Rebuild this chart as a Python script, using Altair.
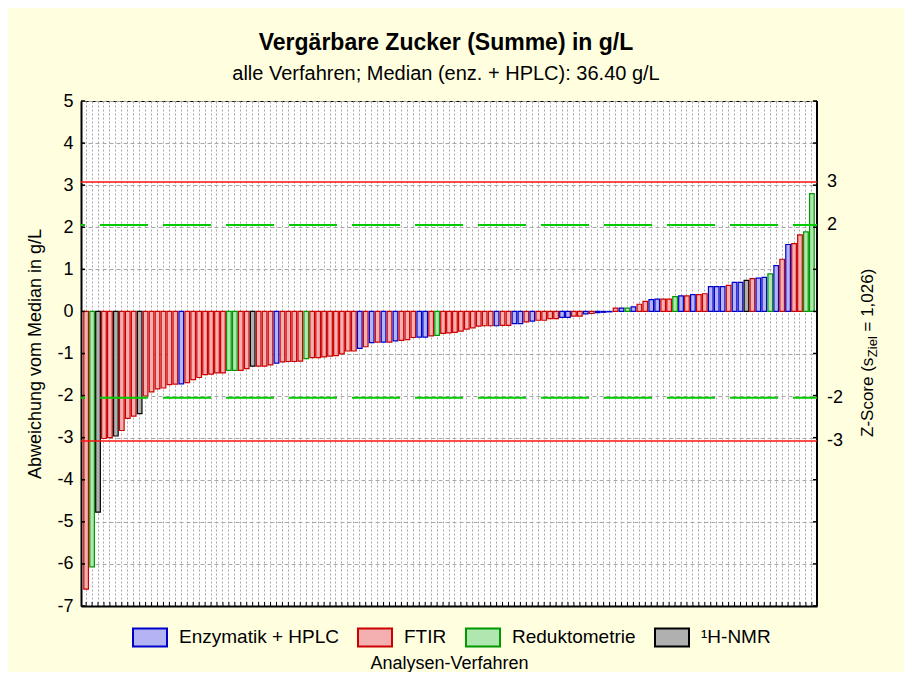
import altair as alt
import pandas as pd

# ---- data ----
values = [
    -6.60, -6.07, -4.77, -3.02, -3.00, -2.96, -2.83, -2.54, -2.49, -2.43,
    -2.01, -1.91, -1.84, -1.82, -1.74, -1.73, -1.72, -1.69, -1.62, -1.57,
    -1.50, -1.49, -1.46, -1.46, -1.40, -1.40, -1.40, -1.36, -1.30, -1.30,
    -1.30, -1.27, -1.23, -1.20, -1.19, -1.19, -1.18, -1.12, -1.10, -1.10,
    -1.08, -1.06, -1.05, -1.01, -0.94, -0.94, -0.88, -0.84, -0.74, -0.73,
    -0.73, -0.73, -0.70, -0.69, -0.67, -0.62, -0.61, -0.61, -0.58, -0.57,
    -0.52, -0.51, -0.50, -0.47, -0.42, -0.39, -0.35, -0.34, -0.34, -0.34,
    -0.33, -0.33, -0.29, -0.29, -0.25, -0.23, -0.21, -0.21, -0.17, -0.17,
    -0.14, -0.14, -0.11, -0.11, -0.06, -0.05, -0.03, -0.02, -0.01, 0.08,
    0.08, 0.08, 0.11, 0.17, 0.24, 0.28, 0.29, 0.29, 0.29, 0.35,
    0.37, 0.37, 0.40, 0.40, 0.42, 0.59, 0.59, 0.59, 0.62, 0.69,
    0.69, 0.74, 0.78, 0.79, 0.81, 0.89, 1.09, 1.24, 1.59, 1.61,
    1.82, 1.89, 2.80,
]
method_codes = [
    "F", "R", "N", "F", "F", "N", "F", "F", "F", "N",
    "F", "F", "F", "F", "F", "F", "E", "F", "F", "F",
    "F", "F", "F", "F", "R", "R", "F", "F", "N", "F",
    "F", "F", "E", "F", "F", "F", "F", "R", "F", "F",
    "F", "F", "F", "F", "F", "F", "E", "F", "E", "F",
    "E", "F", "E", "F", "F", "F", "E", "E", "F", "R",
    "F", "F", "F", "F", "F", "F", "F", "F", "F", "E",
    "F", "F", "E", "E", "F", "E", "F", "F", "F", "F",
    "E", "E", "F", "F", "E", "F", "E", "E", "E", "F",
    "E", "R", "E", "F", "F", "E", "E", "F", "F", "R",
    "E", "F", "E", "F", "F", "E", "E", "E", "F", "E",
    "E", "N", "F", "E", "E", "R", "E", "F", "E", "F",
    "F", "R", "R",
]
method_names = {"E": "Enzymatik + HPLC", "F": "FTIR", "R": "Reduktometrie", "N": "¹H-NMR"}
categories = ["Enzymatik + HPLC", "FTIR", "Reduktometrie", "¹H-NMR"]
fill_colors = ["#B4B4F4", "#F4B0B0", "#B0E6B0", "#B0B0B0"]
stroke_colors = ["#0000CC", "#CC0000", "#009900", "#000000"]
y_ticks = list(range(-7, 6))
z_red = [3, -3]
z_green = [2, -2]
z_labels = [3, 2, -2, -3]
s_ziel = 1.026

title_text = "Vergärbare Zucker (Summe) in g/L"
subtitle_text = "alle Verfahren; Median (enz. + HPLC): 36.40 g/L"
FONT = "Liberation Sans"

W, H = 736, 505

df = pd.DataFrame({
    "idx": list(range(1, len(values) + 1)),
    "abw": values,
    "verfahren": [method_names[c] for c in method_codes],
})

ysc = alt.Scale(domain=[-7, 5], nice=False, zero=False)
xsc = alt.Scale(paddingInner=0.22, paddingOuter=0.47)

xaxis = alt.Axis(
    labels=False, ticks=False, domain=True, domainColor="black", domainWidth=2,
    grid=True, gridColor="#A8A8A8", gridDash=[2, 2], gridWidth=1, bandPosition=0.5,
    title="Analysen-Verfahren", titleFontSize=18, titleFontWeight="normal",
    titleFont=FONT, titleColor="black", titlePadding=48)
yaxis = alt.Axis(
    values=y_ticks, labelExpr="replace(datum.label, '\u2212', '-')",
    title="Abweichung vom Median in g/L", titleFontSize=18,
    titleFontWeight="normal", titleFont=FONT, titleColor="black", titlePadding=12,
    labelFontSize=18, labelFont=FONT, labelColor="black", labelPadding=8,
    labelFlush=False, labelOverlap=False, ticks=False, tickSize=0,
    domain=True, domainColor="black", domainWidth=2,
    grid=True, gridColor="#A8A8A8", gridDash=[4, 3], gridWidth=1)

legend = alt.Legend(
    title=None, orient="none", legendX=51, legendY=518, direction="horizontal",
    columns=4, symbolType="M-1,-0.53L1,-0.53L1,0.53L-1,0.53Z", symbolSize=1156,
    symbolStrokeWidth=2, labelFontSize=19, labelFont=FONT, labelColor="black",
    labelOffset=11, columnPadding=15, padding=0, labelLimit=400,
)

bars = alt.Chart(df).mark_bar(strokeWidth=1.2, fillOpacity=1, strokeOpacity=1).encode(
    x=alt.X("idx:O", scale=xsc, axis=xaxis),
    y=alt.Y("abw:Q", scale=ysc, axis=yaxis),
    y2=alt.datum(0),
    fill=alt.Fill("verfahren:N", scale=alt.Scale(domain=categories, range=fill_colors), legend=legend),
    stroke=alt.Stroke("verfahren:N", scale=alt.Scale(domain=categories, range=stroke_colors), legend=legend),
)

ytick_df = pd.DataFrame({"t": y_ticks})
ticks_left = alt.Chart(ytick_df).mark_rule(color="black", strokeWidth=1.5).encode(
    y=alt.Y("t:Q", scale=ysc, axis=yaxis), x=alt.value(0), x2=alt.value(4))
ticks_right = alt.Chart(ytick_df).mark_rule(color="black", strokeWidth=1.5).encode(
    y=alt.Y("t:Q", scale=ysc, axis=yaxis), x=alt.value(W - 4), x2=alt.value(W))
ticks_bottom = alt.Chart(df).mark_rule(color="black", strokeWidth=1).encode(
    x=alt.X("idx:O", scale=xsc, axis=xaxis), y=alt.value(H - 4), y2=alt.value(H))
right_domain = alt.Chart(pd.DataFrame({"a": [0]})).mark_rule(color="black", strokeWidth=2).encode(
    x=alt.value(W), y=alt.value(0), y2=alt.value(H))

red_lines = alt.Chart(pd.DataFrame({"z": z_red})).transform_calculate(
    g=f"datum.z * {s_ziel}").mark_rule(color="#FF1010", strokeWidth=1.5).encode(
    y=alt.Y("g:Q", scale=ysc, axis=yaxis))
green_lines = alt.Chart(pd.DataFrame({"z": z_green})).transform_calculate(
    g=f"datum.z * {s_ziel}").mark_rule(color="#00CC00", strokeWidth=2,
                                        strokeDash=[48, 15], strokeDashOffset=24).encode(
    y=alt.Y("g:Q", scale=ysc, axis=yaxis))

right_labels = alt.Chart(pd.DataFrame({"z": z_labels})).transform_calculate(
    g=f"datum.z * {s_ziel}", lab="'' + datum.z").mark_text(
    align="left", baseline="middle", fontSize=18, font=FONT, color="black").encode(
    y=alt.Y("g:Q", scale=ysc, axis=yaxis), x=alt.value(W + 10), text="lab:N")

# right axis title with subscript, built from three rotated text pieces
CW = {"Z": 611, "-": 333, "S": 667, "c": 500, "o": 556, "r": 333, "e": 556, " ": 278,
      "(": 333, "s": 500, "i": 222, "l": 222, "=": 584, "1": 556, ",": 278, "0": 556,
      "2": 556, "6": 556, ")": 333}


def tw(s, size):
    return sum(CW.get(ch, 556) for ch in s) * size / 1000.0


seg1, seg2, seg3 = "Z-Score (s", "Ziel", "= 1,026)"
fs_main, fs_sub = 17, 13
x_base, y_start = 792, 336
y2_pos = y_start - tw(seg1, fs_main) - 0.5
y3_pos = y2_pos - tw(seg2, fs_sub) - tw(" ", fs_main)
one = pd.DataFrame({"a": [0]})
rt1 = alt.Chart(one).mark_text(text=seg1, angle=270, align="left", baseline="alphabetic",
                               fontSize=fs_main, font=FONT, color="black").encode(
    x=alt.value(x_base), y=alt.value(y_start))
rt2 = alt.Chart(one).mark_text(text=seg2, angle=270, align="left", baseline="alphabetic",
                               fontSize=fs_sub, font=FONT, color="black").encode(
    x=alt.value(x_base + 4), y=alt.value(y2_pos))
rt3 = alt.Chart(one).mark_text(text=seg3, angle=270, align="left", baseline="alphabetic",
                               fontSize=fs_main, font=FONT, color="black").encode(
    x=alt.value(x_base), y=alt.value(y3_pos))

chart = alt.layer(
    bars, ticks_bottom, ticks_left, ticks_right, right_domain,
    green_lines, red_lines, right_labels, rt1, rt2, rt3,
).properties(
    width=W, height=H,
    title=alt.Title(title_text, subtitle=subtitle_text, fontSize=23, fontWeight="bold",
                    font=FONT, color="black", subtitleFontSize=20, subtitleFont=FONT,
                    subtitleColor="black", subtitlePadding=9, anchor="middle",
                    frame="group", dx=-3, offset=8),
    autosize=alt.AutoSizeParams(type="none"),
    padding={"left": 73, "top": 93, "right": 87, "bottom": 66},
    background="#FFFFE0",
).configure(
    font=FONT,
    view=alt.ViewConfig(stroke="black", strokeWidth=1, fill="white"),
)

chart.save("out.html", embed_options={"renderer": "svg", "actions": False})
